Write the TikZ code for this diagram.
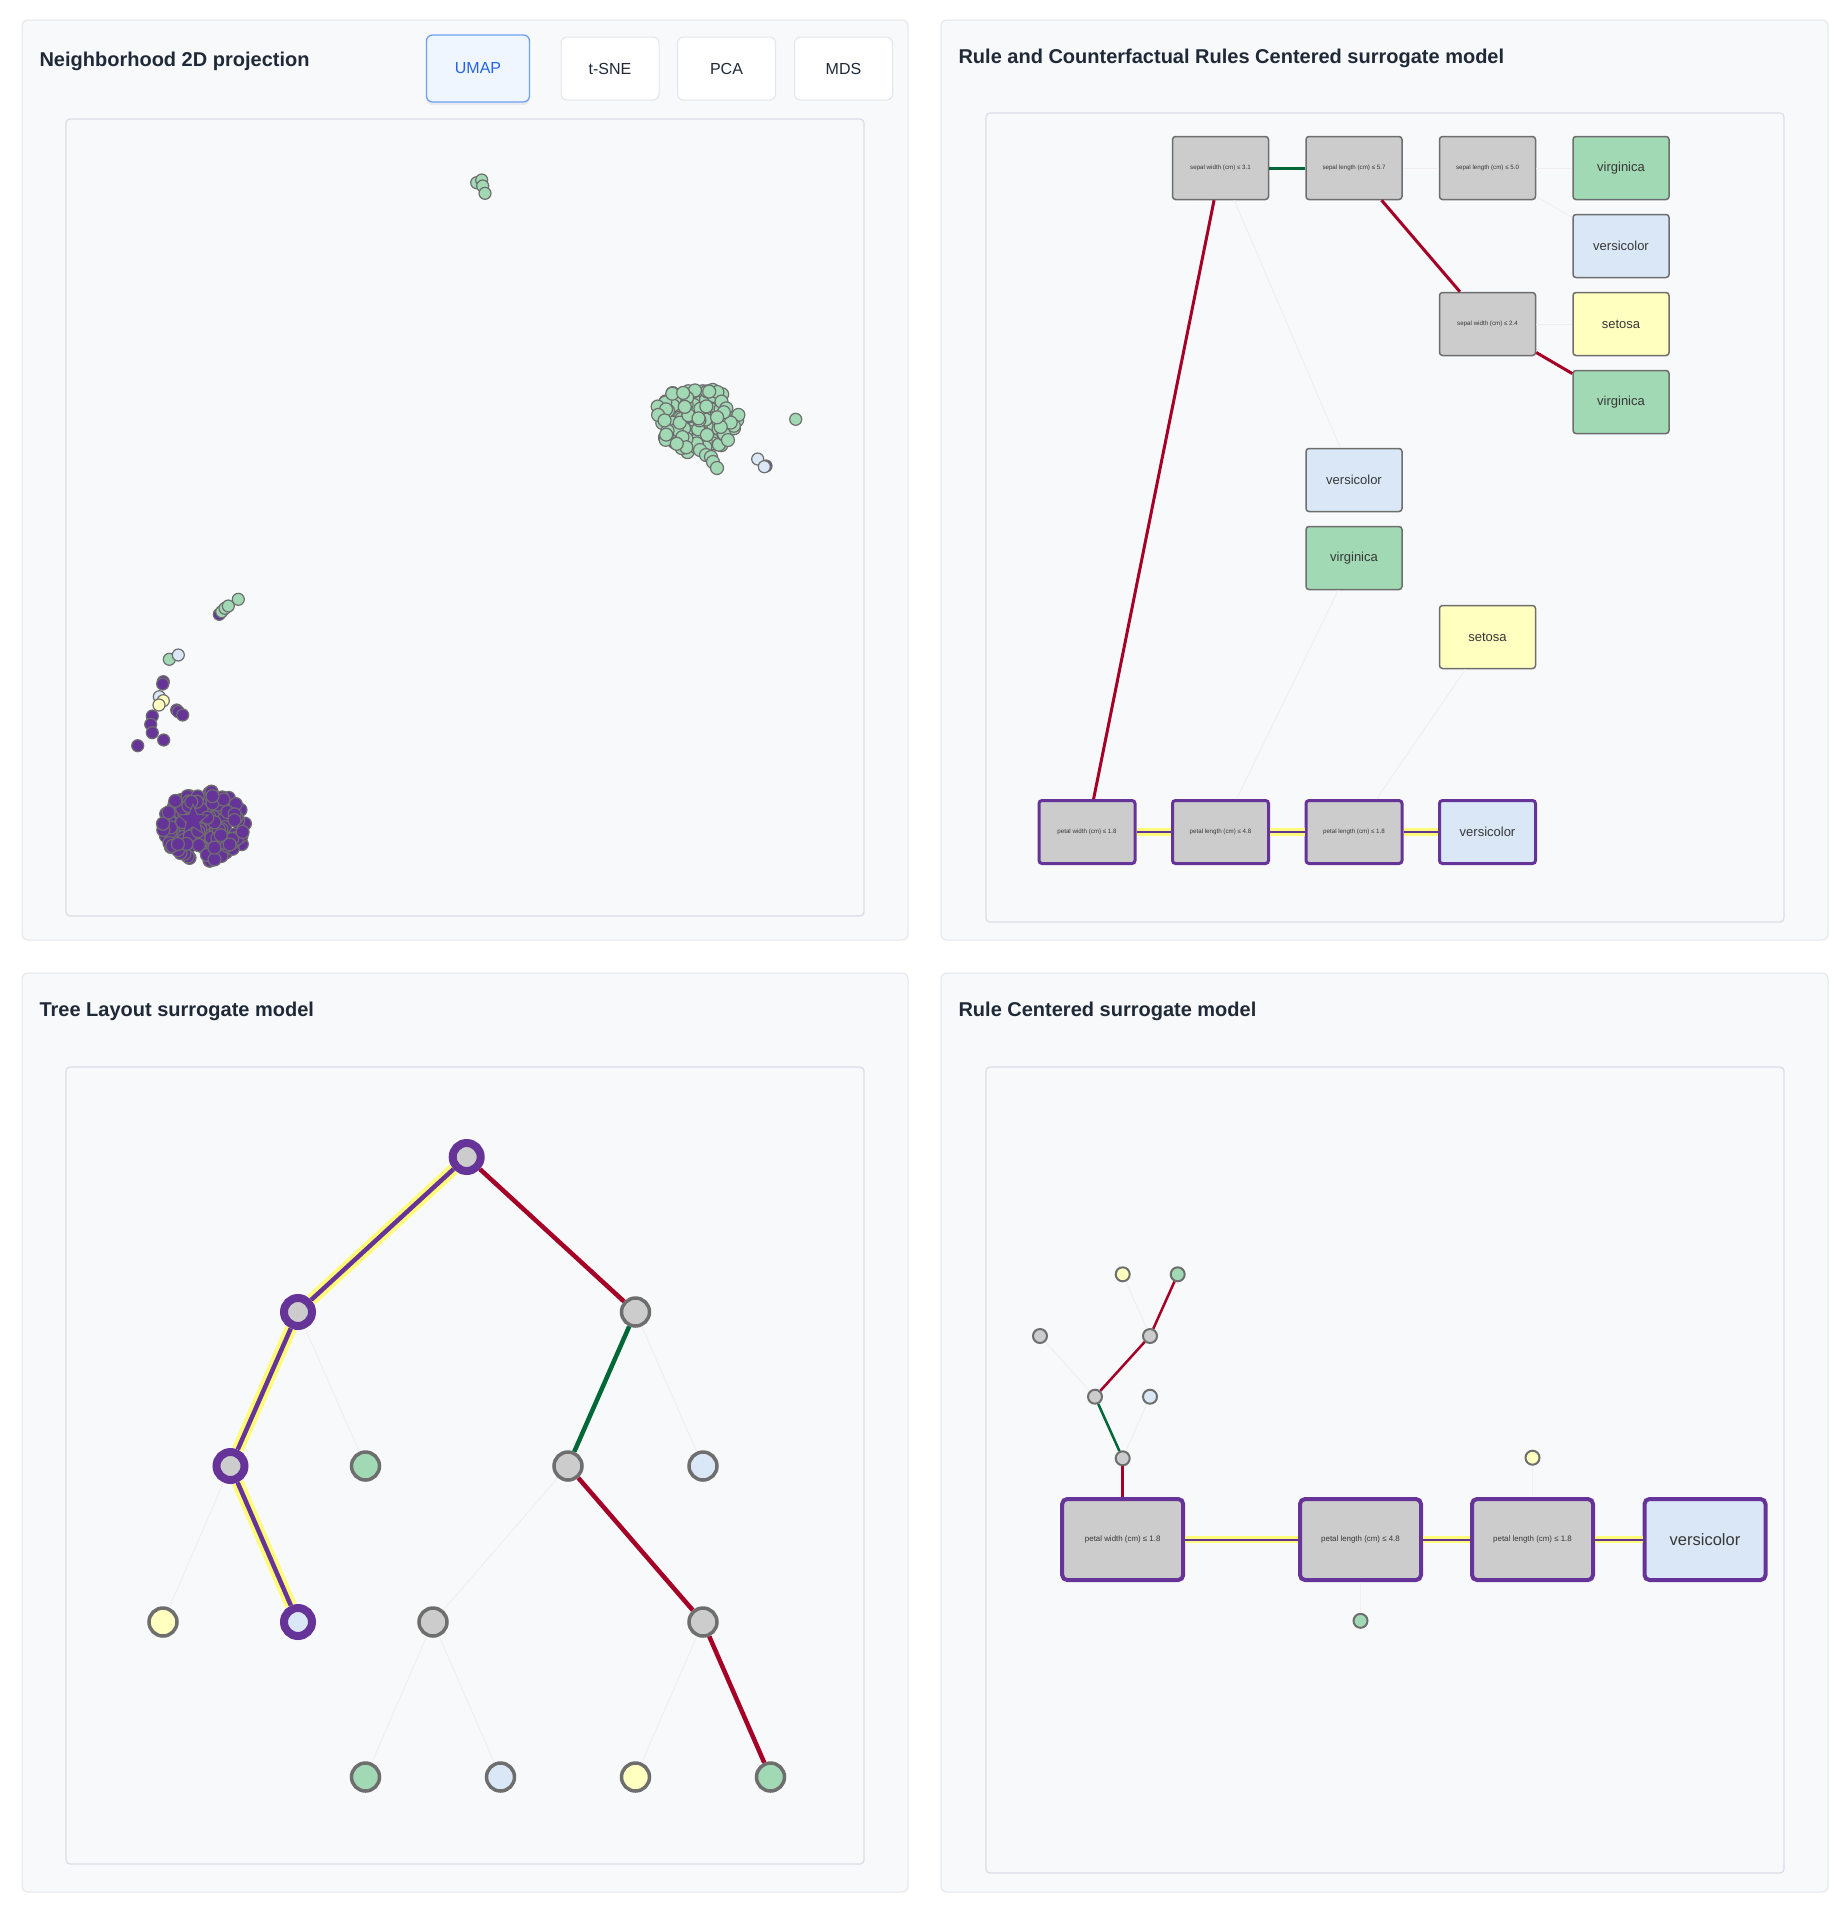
\documentclass[tikz,border=0pt]{standalone}
\usepackage{fontspec}
\setmainfont{Liberation Sans}
\usetikzlibrary{shapes.geometric,shadows}
\definecolor{panelbg}{RGB}{248,249,251}
\definecolor{panelline}{RGB}{226,230,236}
\definecolor{boxline}{RGB}{216,221,229}
\definecolor{titlecol}{RGB}{31,41,55}
\definecolor{txtgray}{RGB}{55,55,55}
\definecolor{nodegray}{RGB}{204,204,204}
\definecolor{nodeborder}{RGB}{110,110,110}
\definecolor{virg}{RGB}{161,217,180}
\definecolor{vers}{RGB}{218,231,246}
\definecolor{seto}{RGB}{255,255,191}
\definecolor{rulepurple}{RGB}{102,51,153}
\definecolor{haloyellow}{RGB}{255,252,120}
\definecolor{cfred}{RGB}{165,0,38}
\definecolor{cfgreen}{RGB}{0,104,55}
\definecolor{faint}{RGB}{242,238,240}
\definecolor{btnblue}{RGB}{37,99,235}
\definecolor{btnfill}{RGB}{239,246,255}
\definecolor{btnline}{RGB}{110,160,245}
\newcommand{\rulesize}{\fontsize{6.2}{7}\selectfont}

\begin{document}
\begin{tikzpicture}[x=1pt,y=-1pt]
  \tikzset{panel/.style={fill=panelbg,draw=panelline,line width=1pt,rounded corners=6pt},
    plotbox/.style={fill=panelbg,draw=boxline,line width=1.2pt,rounded corners=4pt},
    ptitle/.style={anchor=west,text=titlecol,font=\fontsize{20}{24}\selectfont\bfseries},
    btn/.style={rectangle,rounded corners=6pt,fill=white,draw=panelline,line width=1pt,minimum width=98pt,minimum height=63pt,text=titlecol,font=\fontsize{16}{18}\selectfont},
    btnon/.style={fill=btnfill,draw=btnline,line width=1.3pt,text=btnblue,drop shadow={opacity=0.12,shadow xshift=0pt,shadow yshift=-3pt}},
    rbox/.style={rectangle,rounded corners=3pt,draw=nodeborder,line width=1.5pt,minimum width=96pt,minimum height=63pt,inner sep=0pt,fill=nodegray,text=txtgray,font=\rulesize},
    leaf/.style={rbox,fill=#1,font=\fontsize{13}{15}\selectfont},
    onpath/.style={draw=rulepurple,line width=3pt},
    bigbox/.style={rbox,onpath,line width=4pt,rounded corners=5pt,minimum width=121pt,minimum height=81pt,font=\fontsize{7.9}{9}\selectfont},
    tnode/.style={circle,draw=nodeborder,line width=3.5pt,minimum size=28pt,inner sep=0pt,fill=#1},
    tnode/.default=nodegray,
    tpath/.style={tnode=#1,draw=rulepurple,line width=8pt},
    tpath/.default=nodegray,
    snode/.style={circle,draw=nodeborder,line width=2pt,minimum size=14pt,inner sep=0pt,fill=#1},
    snode/.default=nodegray,
    redge/.style={draw=cfred,line width=#1},
    redge/.default=3pt,
    gedge/.style={draw=cfgreen,line width=#1},
    gedge/.default=3pt,
    fedge/.style={draw=faint,line width=0.9pt},
    pedge/.style={draw=rulepurple,line width=#1,preaction={draw=haloyellow,line width=2*#1+3pt}},
    pedge/.default=2.5pt,
    dot/.style={fill=#1,draw=nodeborder,line width=1.2pt}}

  \fill[white] (0,0) rectangle (1839,1923);
  \useasboundingbox (0,0) rectangle (1839,1923);

  \draw[panel] (22,20) rectangle (908,940);
  \draw[panel] (941,20) rectangle (1828,940);
  \draw[panel] (22,973) rectangle (908,1892);
  \draw[panel] (941,973) rectangle (1828,1892);
  \draw[plotbox] (66,119) rectangle (864,916);
  \draw[plotbox] (986,113) rectangle (1784,922);
  \draw[plotbox] (66,1067) rectangle (864,1864);
  \draw[plotbox] (986,1067) rectangle (1784,1873);

  \node[ptitle] (title1) at (36,61) {Neighborhood 2D projection};
  \node[ptitle] (title2) at (955,58) {Rule and Counterfactual Rules Centered surrogate model};
  \node[ptitle] (title3) at (36,1011) {Tree Layout surrogate model};
  \node[ptitle] (title4) at (955,1011) {Rule Centered surrogate model};

  \node[btn,btnon,minimum width=103pt,minimum height=67pt] (umap) at (478,68.5) {UMAP};
  \node[btn] (tsne) at (610,68.5) {t-SNE};
  \node[btn] (pca) at (726.5,68.5) {PCA};
  \node[btn] (mds) at (843.5,68.5) {MDS};

  % UMAP scatter
  \pgfmathsetseed{11}
  \foreach \i in {1,...,150}{
    \pgfmathsetmacro\ang{360*rnd}
    \pgfmathsetmacro\rad{sqrt(rnd)}
    \path[dot=virg] ({696+44*\rad*cos(\ang)},{420+33*\rad*sin(\ang)}) circle (6.5);
  }
  \foreach \x/\y in {700/450,706/455,711/457,713/462,717/468}
    \path[dot=virg] (\x,\y) circle (6.5);
  \foreach \x/\y/\c in {476.7/182.7/virg,481.7/180/virg,482.7/186/virg,485/193.3/virg,
      795.7/419.3/virg,766/466/rulepurple,757.7/459/vers,764.3/466.7/vers,
      219.3/614.3/rulepurple,221.7/611.7/virg,225/608.3/virg,228.3/606/virg,238.3/599.3/virg,
      169.3/659.3/virg,178.3/655/vers,163.3/681.7/rulepurple,162.7/684/rulepurple,
      159.3/696.7/vers,163.3/700.7/seto,159/705/seto,
      176.7/710/rulepurple,178.3/711.7/rulepurple,182.7/715/rulepurple,
      152.3/716/rulepurple,150.7/724.3/rulepurple,152.3/732.7/rulepurple,
      137.7/745.7/rulepurple,163.7/740/rulepurple}
    \path[dot=\c] (\x,\y) circle (6);
  \pgfmathsetseed{5}
  \foreach \i in {1,...,170}{
    \pgfmathsetmacro\ang{360*rnd}
    \pgfmathsetmacro\rad{sqrt(rnd)}
    \path[dot=rulepurple] ({205+43*\rad*cos(\ang)},{826+35*\rad*sin(\ang)}) circle (6.5);
  }
  \node[star,star points=5,star point ratio=2.3,fill=rulepurple,draw=nodeborder,line width=1pt,minimum size=32pt,inner sep=0pt] (inst) at (193,820) {};

  % rule and counterfactual rules
  \node[rbox] (sw31) at (1220.5,168) {sepal width (cm) ≤ 3.1};
  \node[rbox] (sl57) at (1354,168) {sepal length (cm) ≤ 5.7};
  \node[rbox] (sl50) at (1487.5,168) {sepal length (cm) ≤ 5.0};
  \node[leaf=virg] (vir1) at (1621,168) {virginica};
  \node[leaf=vers] (ver1) at (1621,246) {versicolor};
  \node[leaf=seto] (set1) at (1621,324) {setosa};
  \node[rbox] (sw24) at (1487.5,324) {sepal width (cm) ≤ 2.4};
  \node[leaf=virg] (vir2) at (1621,402) {virginica};
  \node[leaf=vers] (ver2) at (1354,480) {versicolor};
  \node[leaf=virg] (vir3) at (1354,558) {virginica};
  \node[leaf=seto] (set2) at (1487.5,637) {setosa};
  \node[rbox,onpath] (pw18) at (1087,832) {petal width (cm) ≤ 1.8};
  \node[rbox,onpath] (pl48) at (1220.5,832) {petal length (cm) ≤ 4.8};
  \node[rbox,onpath] (pl18) at (1354,832) {petal length (cm) ≤ 1.8};
  \node[leaf=vers,onpath] (ver3) at (1487.5,832) {versicolor};
  \path (pw18) edge[redge] (sw31);
  \path (sw31) edge[fedge] (ver2);
  \path (sw31) edge[gedge] (sl57);
  \path (sl57) edge[fedge] (sl50);
  \path (sl57) edge[redge] (sw24);
  \path (sl50) edge[fedge] (vir1);
  \path (sl50) edge[fedge] (ver1);
  \path (sw24) edge[fedge] (set1);
  \path (sw24) edge[redge] (vir2);
  \path (pl48) edge[fedge] (vir3);
  \path (pl18) edge[fedge] (set2);
  \path (pw18) edge[pedge] (pl48);
  \path (pl48) edge[pedge] (pl18);
  \path (pl18) edge[pedge] (ver3);

  % tree layout
  \node[tpath] (t0) at (466.7,1157) {};
  \node[tpath] (t1) at (298,1312) {};
  \node[tnode] (t2) at (635.5,1312) {};
  \node[tpath] (t3) at (230.5,1466) {};
  \node[tnode=virg] (t4) at (365.5,1466) {};
  \node[tnode] (t5) at (568,1466) {};
  \node[tnode=vers] (t6) at (703,1466) {};
  \node[tnode=seto] (t7) at (163,1622) {};
  \node[tpath=vers] (t8) at (298,1622) {};
  \node[tnode] (t9) at (433,1622) {};
  \node[tnode] (t10) at (703,1622) {};
  \node[tnode=virg] (t11) at (365.5,1777) {};
  \node[tnode=vers] (t12) at (500.5,1777) {};
  \node[tnode=seto] (t13) at (635.5,1777) {};
  \node[tnode=virg] (t14) at (770.5,1777) {};
  \path (t0) edge[redge=4.5pt] (t2);
  \path (t1) edge[fedge] (t4);
  \path (t2) edge[gedge=4.5pt] (t5);
  \path (t2) edge[fedge] (t6);
  \path (t3) edge[fedge] (t7);
  \path (t5) edge[fedge] (t9);
  \path (t5) edge[redge=4.5pt] (t10);
  \path (t9) edge[fedge] (t11);
  \path (t9) edge[fedge] (t12);
  \path (t10) edge[fedge] (t13);
  \path (t10) edge[redge=4.5pt] (t14);
  \path (t0) edge[pedge=4.5pt] (t1);
  \path (t1) edge[pedge=4.5pt] (t3);
  \path (t3) edge[pedge=4.5pt] (t8);

  % rule centered
  \node[bigbox] (b1) at (1122.7,1539.5) {petal width (cm) ≤ 1.8};
  \node[bigbox] (b2) at (1360.5,1539.5) {petal length (cm) ≤ 4.8};
  \node[bigbox] (b3) at (1532.5,1539.5) {petal length (cm) ≤ 1.8};
  \node[bigbox,fill=vers,font=\fontsize{16.5}{18}\selectfont] (b4) at (1705,1539.5) {versicolor};
  \node[snode] (s1) at (1122.7,1458.3) {};
  \node[snode] (s2) at (1095,1396.7) {};
  \node[snode=vers] (s3) at (1150,1396.7) {};
  \node[snode] (s4) at (1040,1336) {};
  \node[snode] (s5) at (1150,1336) {};
  \node[snode=seto] (s6) at (1122.7,1274.3) {};
  \node[snode=virg] (s7) at (1177.7,1274.3) {};
  \node[snode=seto] (s8) at (1532.5,1457.7) {};
  \node[snode=virg] (s9) at (1360.5,1620.8) {};
  \path (b1) edge[redge=2.5pt] (s1);
  \path (s1) edge[gedge=2.5pt] (s2);
  \path (s1) edge[fedge] (s3);
  \path (s2) edge[fedge] (s4);
  \path (s2) edge[redge=2.5pt] (s5);
  \path (s5) edge[fedge] (s6);
  \path (s5) edge[redge=2.5pt] (s7);
  \path (b2) edge[fedge] (s9);
  \path (b3) edge[fedge] (s8);
  \path (b1) edge[pedge=2pt] (b2);
  \path (b2) edge[pedge=2pt] (b3);
  \path (b3) edge[pedge=2pt] (b4);
\end{tikzpicture}
\end{document}
